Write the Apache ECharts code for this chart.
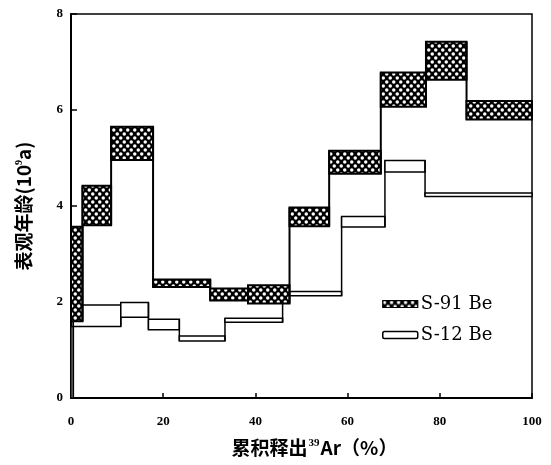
<!DOCTYPE html>
<html>
<head>
<meta charset="utf-8">
<script src="https://cdn.jsdelivr.net/npm/echarts@6/dist/echarts.min.js"></script>
<style>html,body{margin:0;padding:0;background:#fff;}#c{width:551px;height:465px;}</style>
</head>
<body>
<div id="c"></div>
<script>
// ---- data ----
const seriesNames = ['S-91 Be', 'S-12 Be'];
// step boundaries, cumulative 39Ar released (%)
const s91Bounds = [0, 2.5, 8.7, 17.8, 30.2, 38.4, 47.4, 56.0, 67.2, 77.0, 85.8, 100];
const s91Low    = [1.60, 3.60, 4.96, 2.31, 2.03, 1.97, 3.58, 4.67, 6.07, 6.63, 5.80];
const s91High   = [3.57, 4.42, 5.65, 2.47, 2.28, 2.35, 3.97, 5.15, 6.78, 7.42, 6.19];
const s12Bounds = [0, 0.5, 10.8, 16.8, 23.5, 33.4, 45.9, 58.7, 68.1, 76.8, 100];
const s12Low    = [0.00, 1.49, 1.68, 1.42, 1.19, 1.58, 2.13, 3.56, 4.71, 4.20];
const s12High   = [1.49, 1.94, 1.99, 1.64, 1.29, 1.66, 2.22, 3.78, 4.95, 4.27];
const xTicks = [0, 20, 40, 60, 80, 100];
const yTicks = [0, 2, 4, 6, 8];

// ---- crosshatch pattern ----
function makeHatch() {
  const c = document.createElement('canvas');
  c.width = 7; c.height = 8;
  const g = c.getContext('2d');
  g.fillStyle = '#000'; g.fillRect(0, 0, 7, 8);
  g.fillStyle = '#fff';
  [[1.75, 2], [5.25, 6]].forEach(p => { g.beginPath(); g.arc(p[0], p[1], 1.75, 0, Math.PI * 2); g.fill(); });
  return c;
}
const hatch = { image: makeHatch(), repeat: 'repeat' };

function buildSteps(bounds, lo, hi) {
  const out = [];
  for (let i = 0; i < lo.length; i++) {
    const pl = i > 0 ? lo[i - 1] : lo[i];
    const ph = i > 0 ? hi[i - 1] : hi[i];
    out.push([bounds[i], bounds[i + 1], lo[i], hi[i], pl, ph]);
  }
  return out;
}

function makeRender(fill, lw) {
  return function (params, api) {
    const x0 = api.value(0), x1 = api.value(1), lo = api.value(2), hi = api.value(3);
    const pl = api.value(4), ph = api.value(5);
    const a = api.coord([x0, hi]), b = api.coord([x1, lo]);
    const c1 = api.coord([x0, Math.min(lo, pl)]), c2 = api.coord([x0, Math.max(hi, ph)]);
    return {
      type: 'group',
      children: [
        { type: 'line', shape: { x1: c1[0], y1: c1[1], x2: c2[0], y2: c2[1] }, style: { stroke: '#000', lineWidth: lw } },
        { type: 'rect', shape: { x: a[0], y: a[1], width: b[0] - a[0], height: b[1] - a[1] }, style: { fill: fill, stroke: '#000', lineWidth: lw } }
      ]
    };
  };
}

const chart = echarts.init(document.getElementById('c'), null, { renderer: 'canvas' });
const tickFont = { color: '#000', fontFamily: 'Liberation Serif', fontWeight: 'bold', fontSize: 13 };
chart.setOption({
  animation: false,
  backgroundColor: '#fff',
  grid: { left: 71, right: 19, top: 14, bottom: 67, show: true, borderColor: '#000', borderWidth: 1.5, backgroundColor: 'transparent' },
  legend: {
    orient: 'vertical', left: 377, top: 290, itemWidth: 35, itemHeight: 7, itemGap: 13,
    textStyle: { color: '#000', fontFamily: 'DejaVu Serif', fontSize: 18, padding: [0, 0, 0, -2] },
    data: [
      { name: seriesNames[0], icon: 'rect', itemStyle: { color: hatch, borderColor: '#000', borderWidth: 1.2 } },
      { name: seriesNames[1], icon: 'roundRect', itemStyle: { color: '#fff', borderColor: '#000', borderWidth: 1.5 } }
    ]
  },
  xAxis: {
    type: 'value', min: xTicks[0], max: xTicks[xTicks.length - 1], interval: xTicks[1] - xTicks[0],
    axisLine: { lineStyle: { color: '#000', width: 2 } },
    axisTick: { inside: true, length: 5, lineStyle: { color: '#000', width: 1.5 } },
    splitLine: { show: false },
    axisLabel: Object.assign({ margin: 17 }, tickFont),
    name: '累积释出{sup|39}Ar（%）', nameLocation: 'middle', nameGap: 40,
    nameTextStyle: {
      color: '#000', fontFamily: 'Noto Sans CJK SC', fontWeight: 'bold', fontSize: 19, padding: [0, 0, 0, 26],
      rich: { sup: { fontSize: 11, fontWeight: 'bold', fontFamily: 'Liberation Serif', verticalAlign: 'top', padding: [0, 1, 8, 1], color: '#000' } }
    }
  },
  yAxis: {
    type: 'value', min: yTicks[0], max: yTicks[yTicks.length - 1], interval: yTicks[1] - yTicks[0],
    axisLine: { lineStyle: { color: '#000', width: 2 } },
    axisTick: { inside: true, length: 6, lineStyle: { color: '#000', width: 1.5 } },
    splitLine: { show: false },
    axisLabel: Object.assign({ margin: 8 }, tickFont),
    name: '表观年龄(10{sup|9}a)', nameLocation: 'middle', nameGap: 38, nameRotate: 90,
    nameTextStyle: {
      color: '#000', fontFamily: 'Noto Sans CJK SC', fontWeight: 'bold', fontSize: 19,
      rich: { sup: { fontSize: 10, fontWeight: 'bold', fontFamily: 'Liberation Serif', verticalAlign: 'top', padding: [0, 0, 8, 0], color: '#000' } }
    }
  },
  series: [
    {
      name: seriesNames[1], type: 'custom', renderItem: makeRender('#fff', 1.5),
      itemStyle: { color: '#fff', borderColor: '#000' },
      encode: { x: [0, 1], y: [2, 3] },
      data: buildSteps(s12Bounds, s12Low, s12High), z: 2
    },
    {
      name: seriesNames[0], type: 'custom', renderItem: makeRender(hatch, 2),
      itemStyle: { color: hatch, borderColor: '#000' },
      encode: { x: [0, 1], y: [2, 3] },
      data: buildSteps(s91Bounds, s91Low, s91High), z: 3
    }
  ]
});
</script>
</body>
</html>
